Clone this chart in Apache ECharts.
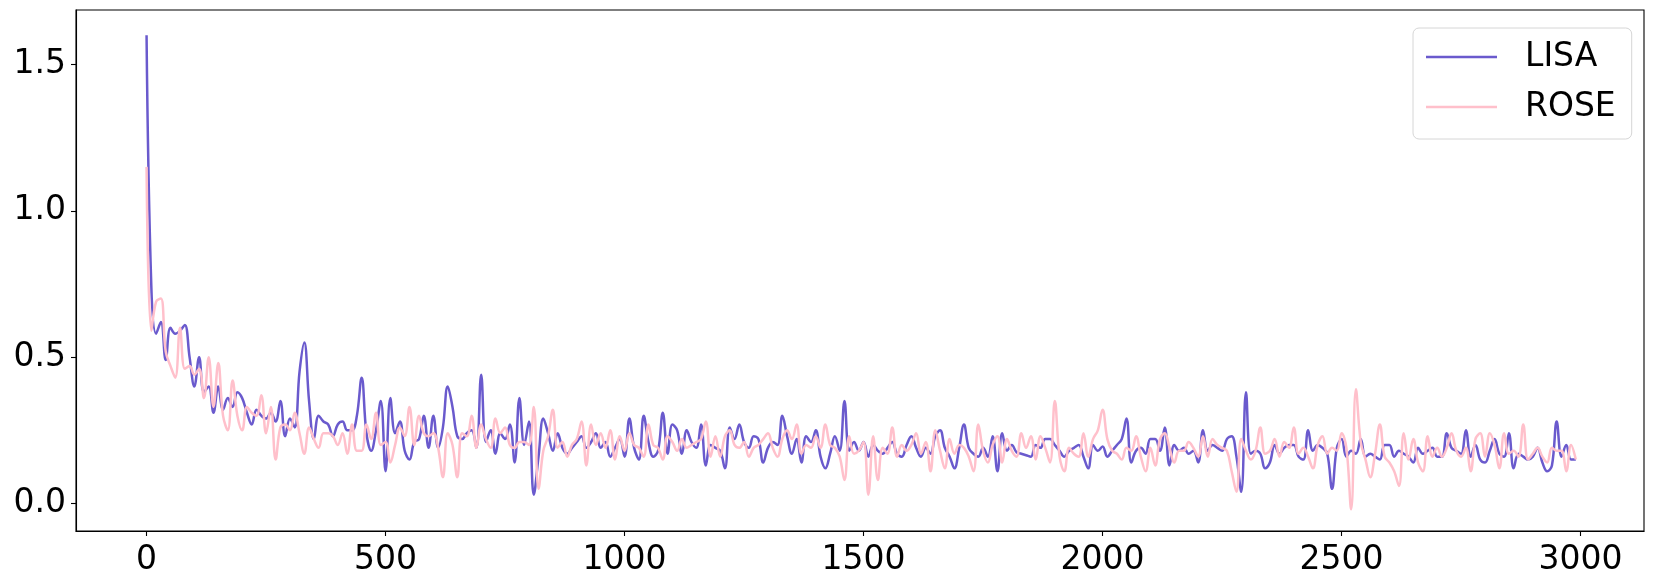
<!DOCTYPE html>
<html lang="en">
<head>
    <meta charset="UTF-8">
    <title>LISA vs ROSE</title>
    <style>
        html, body { margin: 0; padding: 0; background: #fff; }
        #chart { width: 1660px; height: 588px; }
    </style>
</head>
<body>
    <div id="chart"></div>
</body>
<script src="https://cdn.jsdelivr.net/npm/echarts@6.0.0/dist/echarts.min.js"></script>
<script>
    // one value every 10 steps, 0 .. 2990
    var lisa = [
        1.60, 0.74, 0.58, 0.62, 0.49, 0.60, 0.58, 0.59, 0.61, 0.50,
        0.40, 0.50, 0.38, 0.40, 0.31, 0.40, 0.32, 0.36, 0.33, 0.38,
        0.36, 0.31, 0.27, 0.32, 0.30, 0.29, 0.31, 0.28, 0.35, 0.23,
        0.29, 0.26, 0.45, 0.55, 0.35, 0.22, 0.30, 0.28, 0.27, 0.23,
        0.27, 0.28, 0.25, 0.25, 0.30, 0.43, 0.24, 0.18, 0.25, 0.35,
        0.11, 0.36, 0.24, 0.28, 0.18, 0.15, 0.21, 0.22, 0.30, 0.19,
        0.30, 0.19, 0.26, 0.40, 0.33, 0.23, 0.22, 0.24, 0.25, 0.19,
        0.44, 0.21, 0.25, 0.17, 0.24, 0.22, 0.27, 0.14, 0.36, 0.20,
        0.28, 0.03, 0.16, 0.29, 0.24, 0.18, 0.24, 0.19, 0.17, 0.19,
        0.21, 0.23, 0.19, 0.21, 0.24, 0.19, 0.21, 0.16, 0.19, 0.22,
        0.16, 0.29, 0.19, 0.15, 0.30, 0.21, 0.16, 0.18, 0.31, 0.17,
        0.27, 0.25, 0.17, 0.25, 0.21, 0.19, 0.27, 0.13, 0.20, 0.19,
        0.18, 0.12, 0.26, 0.22, 0.27, 0.21, 0.19, 0.23, 0.22, 0.14,
        0.19, 0.21, 0.20, 0.30, 0.23, 0.17, 0.22, 0.14, 0.23, 0.21,
        0.25, 0.16, 0.12, 0.17, 0.23, 0.18, 0.35, 0.18, 0.21, 0.18,
        0.21, 0.16, 0.20, 0.18, 0.17, 0.19, 0.21, 0.17, 0.16, 0.20,
        0.23, 0.19, 0.16, 0.19, 0.17, 0.23, 0.25, 0.19, 0.16, 0.12,
        0.19, 0.27, 0.19, 0.17, 0.16, 0.19, 0.16, 0.23, 0.11, 0.24,
        0.18, 0.20, 0.175, 0.17, 0.165, 0.16, 0.20, 0.19, 0.22, 0.22,
        0.20, 0.18, 0.16, 0.18, 0.19, 0.20, 0.16, 0.12, 0.20, 0.18,
        0.195, 0.16, 0.18, 0.20, 0.22, 0.29, 0.14, 0.18, 0.19, 0.17,
        0.22, 0.22, 0.18, 0.26, 0.13, 0.20, 0.18, 0.19, 0.17, 0.18,
        0.14, 0.25, 0.18, 0.20, 0.19, 0.18, 0.22, 0.23, 0.16, 0.04,
        0.38, 0.17, 0.18, 0.17, 0.12, 0.14, 0.20, 0.17, 0.19, 0.20,
        0.20, 0.16, 0.15, 0.25, 0.18, 0.20, 0.19, 0.17, 0.05, 0.19,
        0.22, 0.16, 0.18, 0.17, 0.22, 0.16, 0.17, 0.16, 0.15, 0.20,
        0.20, 0.16, 0.18, 0.17, 0.16, 0.14, 0.19, 0.17, 0.18, 0.19,
        0.16, 0.16, 0.24, 0.19, 0.18, 0.17, 0.25, 0.16, 0.20, 0.15,
        0.14, 0.18, 0.22, 0.17, 0.16, 0.24, 0.12, 0.17, 0.16, 0.15,
        0.16, 0.19, 0.14, 0.11, 0.13, 0.28, 0.16, 0.20, 0.15, 0.15
    ];
    var rose = [
        1.15, 0.59, 0.69, 0.70, 0.52, 0.47, 0.43, 0.60, 0.46, 0.47,
        0.44, 0.46, 0.36, 0.50, 0.33, 0.48, 0.30, 0.25, 0.42, 0.30,
        0.25, 0.33, 0.31, 0.30, 0.37, 0.24, 0.33, 0.15, 0.26, 0.27,
        0.25, 0.31, 0.24, 0.17, 0.26, 0.22, 0.19, 0.24, 0.24, 0.23,
        0.20, 0.24, 0.17, 0.27, 0.18, 0.18, 0.27, 0.22, 0.31, 0.20,
        0.21, 0.14, 0.20, 0.26, 0.23, 0.33, 0.20, 0.30, 0.24, 0.23,
        0.24, 0.19, 0.09, 0.24, 0.20, 0.09, 0.24, 0.23, 0.30, 0.19,
        0.27, 0.22, 0.19, 0.29, 0.24, 0.26, 0.20, 0.19, 0.21, 0.21,
        0.20, 0.33, 0.05, 0.18, 0.23, 0.32, 0.19, 0.21, 0.16, 0.20,
        0.22, 0.28, 0.13, 0.27, 0.20, 0.24, 0.19, 0.25, 0.15, 0.23,
        0.18, 0.24, 0.20, 0.19, 0.16, 0.27, 0.20, 0.19, 0.15, 0.23,
        0.21, 0.18, 0.22, 0.19, 0.20, 0.21, 0.22, 0.28, 0.16, 0.23,
        0.16, 0.23, 0.25, 0.20, 0.19, 0.21, 0.16, 0.19, 0.20, 0.22,
        0.24, 0.19, 0.16, 0.22, 0.25, 0.22, 0.27, 0.17, 0.20, 0.19,
        0.23, 0.19, 0.27, 0.20, 0.19, 0.16, 0.08, 0.23, 0.17, 0.18,
        0.21, 0.03, 0.23, 0.08, 0.19, 0.17, 0.26, 0.16, 0.20, 0.18,
        0.20, 0.24, 0.17, 0.21, 0.11, 0.25, 0.18, 0.12, 0.22, 0.17,
        0.20, 0.19, 0.16, 0.11, 0.27, 0.18, 0.14, 0.20, 0.23, 0.14,
        0.22, 0.18, 0.16, 0.24, 0.19, 0.23, 0.15, 0.23, 0.19, 0.14,
        0.35, 0.16, 0.11, 0.19, 0.17, 0.16, 0.24, 0.16, 0.22, 0.25,
        0.32, 0.22, 0.18, 0.17, 0.15, 0.19, 0.18, 0.23, 0.16, 0.11,
        0.19, 0.13, 0.22, 0.24, 0.19, 0.14, 0.18, 0.18, 0.21, 0.19,
        0.16, 0.23, 0.16, 0.22, 0.20, 0.19, 0.18, 0.11, 0.04, 0.22,
        0.18, 0.15, 0.18, 0.26, 0.17, 0.18, 0.22, 0.16, 0.21, 0.19,
        0.26, 0.17, 0.19, 0.16, 0.12, 0.20, 0.23, 0.17, 0.19, 0.18,
        0.24, 0.19, -0.02, 0.39, 0.21, 0.15, 0.09, 0.17, 0.27, 0.16,
        0.14, 0.11, 0.06, 0.24, 0.15, 0.22, 0.14, 0.11, 0.23, 0.16,
        0.19, 0.16, 0.19, 0.24, 0.18, 0.16, 0.19, 0.11, 0.22, 0.24,
        0.16, 0.24, 0.20, 0.12, 0.24, 0.17, 0.18, 0.16, 0.27, 0.15,
        0.17, 0.19, 0.16, 0.14, 0.19, 0.18, 0.18, 0.11, 0.20, 0.15
    ];
    var xTicks = [0, 500, 1000, 1500, 2000, 2500, 3000];
    var yTicks = [0, 0.5, 1.0, 1.5];

    var font = 'DejaVu Sans';
    var steps = lisa.map(function (v, i) { return i * 10; });
    function pairs(vals) {
        return vals.map(function (v, i) { return [steps[i], v]; });
    }

    var myChart = echarts.init(document.getElementById('chart'), null, { renderer: 'canvas' });
    var option = {
        animation: false,
        backgroundColor: '#fff',
        grid: {
            left: 76, right: 16, top: 10, bottom: 57,
            show: true, borderColor: '#000', borderWidth: 1.1
        },
        legend: {
            left: 1413, top: 28,
            orient: 'vertical',
            icon: 'rect',
            itemWidth: 71, itemHeight: 2.5, itemGap: 10,
            padding: [9, 16, 12, 13],
            borderColor: '#d6d6d6', borderWidth: 1, borderRadius: 6,
            backgroundColor: '#fff',
            textStyle: {
                fontFamily: font, fontSize: 33, color: '#000',
                lineHeight: 40, padding: [0, 0, 0, 23]
            },
            data: ['LISA', 'ROSE']
        },
        xAxis: {
            type: 'value',
            min: -147.6, max: 3132.6,
            axisLine: { onZero: false, lineStyle: { color: '#000', width: 1.1 } },
            axisTick: { customValues: xTicks, length: 5, lineStyle: { color: '#000', width: 1.1 } },
            axisLabel: {
                customValues: xTicks, margin: 13,
                fontFamily: font, fontSize: 33, color: '#000',
                formatter: function (v) { return String(v); }
            },
            splitLine: { show: false }
        },
        yAxis: {
            type: 'value',
            min: -0.094, max: 1.686,
            axisLine: { show: true, onZero: false, lineStyle: { color: '#000', width: 1.1 } },
            axisTick: { show: true, customValues: yTicks, length: 5, lineStyle: { color: '#000', width: 1.1 } },
            axisLabel: {
                customValues: yTicks, margin: 10,
                fontFamily: font, fontSize: 33, color: '#000',
                formatter: function (v) { return v.toFixed(1); }
            },
            splitLine: { show: false }
        },
        series: [{
            name: 'LISA',
            type: 'line',
            data: pairs(lisa),
            showSymbol: false,
            smooth: 0.4,
            color: '#6A5ACD',
            lineStyle: { width: 2.5, color: '#6A5ACD' }
        }, {
            name: 'ROSE',
            type: 'line',
            data: pairs(rose),
            showSymbol: false,
            smooth: 0.4,
            color: '#FFC0CB',
            lineStyle: { width: 2.5, color: '#FFC0CB' }
        }]
    };
    myChart.setOption(option);
</script>
</html>
